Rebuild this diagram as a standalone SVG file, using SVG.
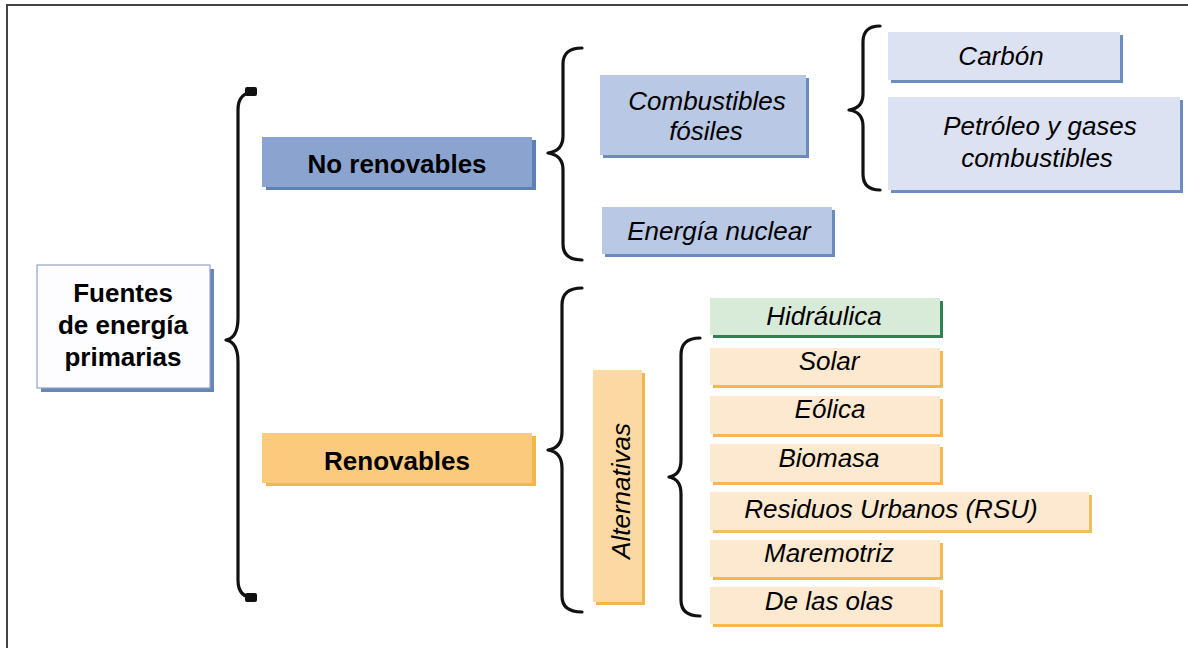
<svg xmlns="http://www.w3.org/2000/svg" width="1188" height="648" viewBox="0 0 1188 648">
<style>
  text { font-family: "Liberation Sans", Arial, sans-serif; font-size: 26px; fill: #000; text-anchor: middle; }
  .b { font-weight: bold; }
  .i { font-style: italic; }
  .brace { fill: none; stroke: #111; stroke-width: 3.2; stroke-linecap: round; stroke-linejoin: round; }
  .cap { fill: #111; }
  .frame { fill: none; stroke: #444; stroke-width: 2; }
</style>
<rect x="0" y="0" width="1188" height="648" fill="#fff"/>
<path class="frame" d="M7,648 L7,5 L1188,5"/>

<g id="connectors">
  <path class="brace" d="M255,92 Q238,92 238,110 L238,318 Q238,338 226,340 Q238,342 238,362 L238,580 Q238,598 255,598"/>
  <rect class="cap" x="245" y="87" width="12" height="9" rx="2"/>
  <rect class="cap" x="245" y="593" width="12" height="9" rx="2"/>
  <path class="brace" d="M582,48 Q563,48 563,64 L563,136 Q563,151 548,153 Q563,155 563,170 L563,244 Q563,260 582,260"/>
  <path class="brace" d="M880,26 Q863,26 863,42 L863,94 Q863,108 849,110 Q863,112 863,126 L863,174 Q863,190 880,190"/>
  <path class="brace" d="M582,288 Q562,288 562,305 L562,432 Q562,448 548,450 Q562,452 562,468 L562,596 Q562,612 582,612"/>
  <path class="brace" d="M700,338 Q681,338 681,355 L681,460 Q681,475 669,477 Q681,479 681,494 L681,600 Q681,616 700,616"/>
</g>

<g id="fuentes">
  <rect x="41" y="269" width="173" height="123" fill="#6a86b8"/>
  <rect x="37" y="265" width="173" height="123" fill="#fdfdff" stroke="#8fa4c8" stroke-width="1.2"/>
  <text class="b" x="123" y="302">Fuentes</text>
  <text class="b" x="123" y="334">de energía</text>
  <text class="b" x="123" y="366">primarias</text>
</g>

<g id="no-renovables">
  <rect x="266" y="140" width="270" height="50" fill="#5f80b7"/>
  <rect x="262" y="137" width="270" height="50" fill="#8ba4cf"/>
  <text class="b" x="397" y="173">No renovables</text>
</g>

<g id="renovables">
  <rect x="266" y="436" width="270" height="50" fill="#f3b552"/>
  <rect x="262" y="433" width="270" height="50" fill="#fbca7c"/>
  <text class="b" x="397" y="470">Renovables</text>
</g>

<g id="combustibles-fosiles">
  <rect x="603" y="78" width="206" height="80" fill="#6b8bbf"/>
  <rect x="600" y="75" width="206" height="80" fill="#b9c8e4"/>
  <text class="i" x="707" y="110">Combustibles</text>
  <text class="i" x="706" y="140">fósiles</text>
</g>

<g id="energia-nuclear">
  <rect x="605" y="210" width="230" height="47" fill="#6b8bbf"/>
  <rect x="602" y="207" width="230" height="47" fill="#b9c8e4"/>
  <text class="i" x="719" y="240">Energía nuclear</text>
</g>

<g id="carbon">
  <rect x="891" y="35" width="232" height="48" fill="#6d8cc0"/>
  <rect x="888" y="32" width="232" height="48" fill="#dde2f3"/>
  <text class="i" x="1001" y="65">Carbón</text>
</g>

<g id="petroleo">
  <rect x="891" y="100" width="292" height="93" fill="#6d8cc0"/>
  <rect x="888" y="97" width="292" height="93" fill="#dde2f3"/>
  <text class="i" x="1040" y="135">Petróleo y gases</text>
  <text class="i" x="1037" y="167">combustibles</text>
</g>

<g id="alternativas">
  <rect x="596" y="373" width="49" height="232" fill="#f0b84c"/>
  <rect x="593" y="370" width="49" height="232" fill="#fcd9a3"/>
  <text class="i" transform="translate(630,491) rotate(-90)" x="0" y="0">Alternativas</text>
</g>

<g id="hidraulica">
  <rect x="713" y="301" width="230" height="37" fill="#2e8150"/>
  <rect x="710" y="298" width="230" height="37" fill="#d8ebd8"/>
  <text class="i" x="824" y="325">Hidráulica</text>
</g>

<g id="solar">
  <rect x="713" y="351" width="230" height="37" fill="#f5b74f"/>
  <rect x="710" y="348" width="230" height="37" fill="#fde9cf"/>
  <text class="i" x="829" y="370">Solar</text>
</g>

<g id="eolica">
  <rect x="713" y="399" width="230" height="38" fill="#f5b74f"/>
  <rect x="710" y="396" width="230" height="38" fill="#fde9cf"/>
  <text class="i" x="830" y="418">Eólica</text>
</g>

<g id="biomasa">
  <rect x="713" y="447" width="230" height="38" fill="#f5b74f"/>
  <rect x="710" y="444" width="230" height="38" fill="#fde9cf"/>
  <text class="i" x="829" y="467">Biomasa</text>
</g>

<g id="rsu">
  <rect x="713" y="495" width="379" height="38" fill="#eec05a"/>
  <rect x="710" y="492" width="379" height="38" fill="#fde9cf"/>
  <text class="i" x="891" y="518">Residuos Urbanos (RSU)</text>
</g>

<g id="maremotriz">
  <rect x="713" y="543" width="230" height="37" fill="#f5b74f"/>
  <rect x="710" y="540" width="230" height="37" fill="#fde9cf"/>
  <text class="i" x="829" y="562">Maremotriz</text>
</g>

<g id="de-las-olas">
  <rect x="713" y="590" width="230" height="37" fill="#f5b74f"/>
  <rect x="710" y="587" width="230" height="37" fill="#fde9cf"/>
  <text class="i" x="829" y="610">De las olas</text>
</g>
</svg>
